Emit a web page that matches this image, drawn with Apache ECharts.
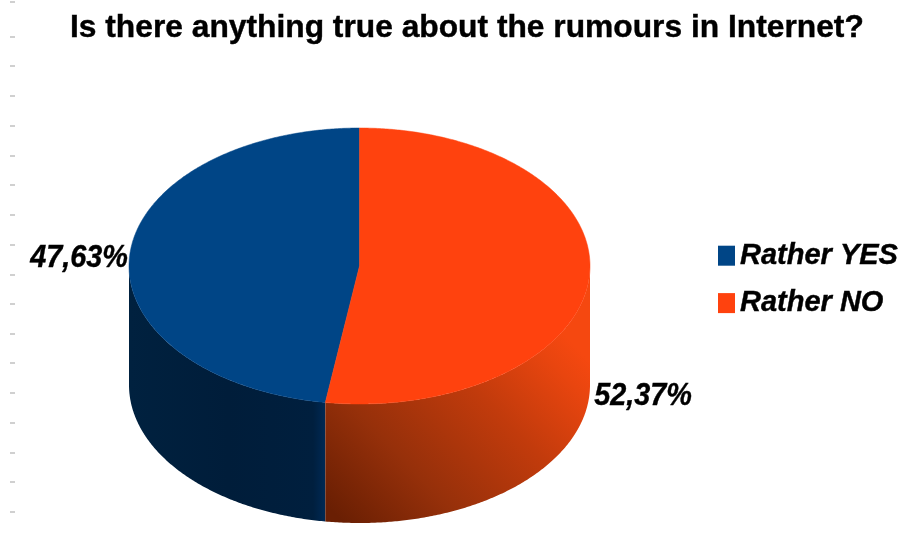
<!DOCTYPE html>
<html>
<head>
<meta charset="utf-8">
<style>html,body{margin:0;padding:0;background:#fff}#c{width:903px;height:541px}</style>
<script src="https://cdn.jsdelivr.net/npm/echarts@6/dist/echarts.min.js"></script>
</head>
<body>
<div id="c"></div>
<script>
const titleText = 'Is there anything true about the rumours in Internet?';
const categories = ['Rather YES', 'Rather NO'];
const values = [47.63, 52.37];
const topColors = ['#004586', '#ff420e'];
const marginMarks = [2, 37, 66, 96, 126, 156, 185, 215, 245, 275, 304, 334, 363, 393, 423, 453, 482, 512];

const FONT = '"Liberation Sans", Arial, sans-serif';
const CX = 359.5, CY = 266, RX = 230.5, RY = 138, DEPTH = 119;
const total = values.reduce((a, b) => a + b, 0);

// Slices run counter-clockwise from 12 o'clock: YES first, going left.
function sliceRange(i) {
  let start = 0;
  for (let k = 0; k < i; k++) start += values[k] / total * 360;
  return [start, start + values[i] / total * 360];
}
function pt(deg, dy) {
  const a = deg * Math.PI / 180;
  return [CX - RX * Math.sin(a), CY - RY * Math.cos(a) + (dy || 0)];
}
function arc(from, to, dy) {
  const n = Math.max(2, Math.ceil(Math.abs(to - from) * 2));
  const out = [];
  for (let i = 0; i <= n; i++) out.push(pt(from + (to - from) * i / n, dy));
  return out;
}
function wallFill(i) {
  if (i === 0) {
    return new echarts.graphic.LinearGradient(129, 0, 327, 0, [
      { offset: 0, color: '#00213f' },
      { offset: 0.5, color: '#001d3a' },
      { offset: 0.93, color: '#001f3e' },
      { offset: 1, color: '#002b58' }
    ], true);
  }
  return new echarts.graphic.LinearGradient(350, 530, 560, 330, [
    { offset: 0, color: '#6a1f03' },
    { offset: 0.3, color: '#96300a' },
    { offset: 0.65, color: '#c23b0c' },
    { offset: 0.9, color: '#e8450f' },
    { offset: 1, color: '#f54810' }
  ], true);
}
function renderSlice(params, api) {
  const i = params.seriesIndex;
  const [s, e] = sliceRange(i);
  const children = [];
  // visible side wall = the part of the rim on the front half (90..270 deg)
  const ws = Math.max(s, 90), we = Math.min(e, 270);
  if (we > ws) {
    const top = arc(ws, we, 0);
    const bottom = arc(we, ws, DEPTH);
    children.push({
      type: 'polygon',
      shape: { points: top.concat(bottom) },
      style: { fill: wallFill(i) }
    });
  }
  children.push({
    type: 'polygon',
    shape: { points: [[CX, CY]].concat(arc(s, e, 0)) },
    style: { fill: topColors[i], stroke: topColors[i], lineWidth: 0.5 }
  });
  return { type: 'group', children };
}
function labelOf(v) { return v.toFixed(2).replace('.', ',') + '%'; }

const series = categories.map((name, i) => ({
  type: 'custom',
  name,
  coordinateSystem: 'none',
  renderItem: renderSlice,
  data: [values[i]],
  silent: true,
  animation: false,
  itemStyle: { color: topColors[i] }
}));

const labelPos = [
  { left: 30, top: 243 },
  { left: 594, top: 381 }
];

const chart = echarts.init(document.getElementById('c'), null, { renderer: 'canvas' });
chart.setOption({
  animation: false,
  backgroundColor: '#ffffff',
  color: topColors,
  title: {
    text: titleText,
    left: 70,
    top: 12,
    padding: 0,
    textStyle: { fontFamily: FONT, fontSize: 31.75, fontWeight: 'bold', color: '#000', textBorderColor: '#000', textBorderWidth: 0.4 }
  },
  legend: {
    data: categories,
    orient: 'vertical',
    left: 718,
    top: 241,
    padding: 0,
    itemWidth: 17,
    itemHeight: 20,
    itemGap: 18,
    icon: 'rect',
    selectedMode: false,
    textStyle: { fontFamily: FONT, fontSize: 29, fontWeight: 'bold', fontStyle: 'italic', color: '#000', lineHeight: 20, textBorderColor: '#000', textBorderWidth: 0.4 }
  },
  graphic: marginMarks.map(y => ({
    type: 'rect', shape: { x: 10, y: y - 1, width: 5, height: 2 }, style: { fill: '#d0d0d0' }, silent: true
  })).concat(values.map((v, i) => ({
    type: 'text', left: labelPos[i].left, top: labelPos[i].top, z: 10, scaleX: 0.93,
    style: { text: labelOf(v), font: 'italic bold 31px ' + FONT, fill: '#000', stroke: '#000', lineWidth: 0.4 }, silent: true
  }))),
  series
});
</script>
</body>
</html>
